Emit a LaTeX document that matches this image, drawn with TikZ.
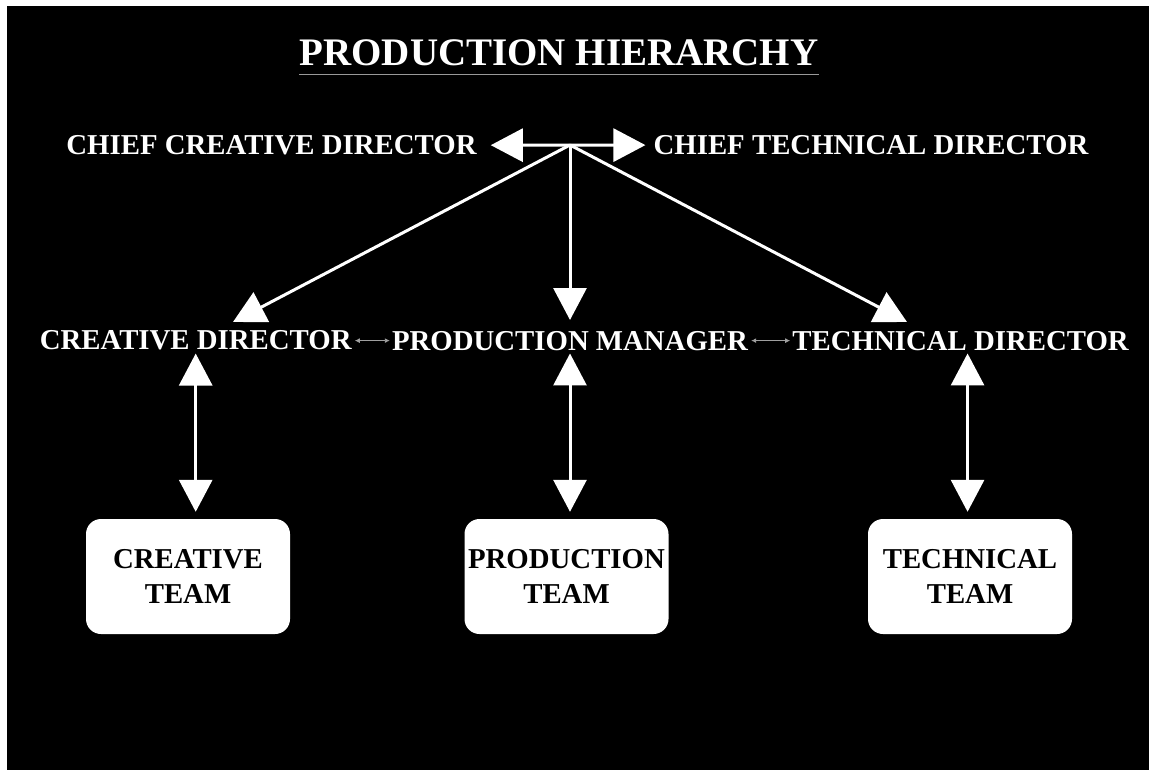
\documentclass[tikz,border=0pt]{standalone}
\usepackage{fontspec}
\setmainfont{Liberation Serif}
\usetikzlibrary{arrows.meta,positioning}

\tikzset{
    roletext/.style={text=white, inner sep=0pt, anchor=base, font=\fontsize{28.8}{35}\selectfont\bfseries},
    teambox/.style={rectangle, rounded corners=15pt, fill=white, text=black, minimum width=204pt, minimum height=115pt, align=center, font=\fontsize{28.8}{35}\selectfont\bfseries},
    bigarrow/.style={draw=white, line width=3pt, -{Triangle[length=32pt,width=33pt]}},
    twoway/.style={draw=white, line width=3pt, {Triangle[length=32pt,width=33pt]}-{Triangle[length=32pt,width=33pt]}},
    thinarrow/.style={draw=gray!75, line width=0.9pt, {Latex[length=5pt,width=5pt]}-{Latex[length=5pt,width=5pt]}, shorten <=3pt, shorten >=2pt}
}

\begin{document}
\begin{tikzpicture}[x=1pt, y=-1pt]
        \useasboundingbox (0,0) rectangle (1149,770);
        \fill[white] (0,0) rectangle (1149,770);
        \fill[black] (7,6) rectangle (1149,770);

        \node[roletext, font=\fontsize{39}{45}\selectfont\bfseries] (title) at (559,66) {PRODUCTION HIERARCHY};
        \draw[gray!80, line width=1pt] ([yshift=-8pt]title.south west) -- ([yshift=-8pt]title.south east);

        \node[roletext] (ccd) at (271.5,154.5) {CHIEF CREATIVE DIRECTOR};
        \node[roletext] (ctd) at (871,154.5) {CHIEF TECHNICAL DIRECTOR};

        \node[roletext] (pm) at (570,350) {PRODUCTION MANAGER};
        \node[roletext, left=40pt of pm] (cd) {CREATIVE DIRECTOR};
        \node[roletext, right=44pt of pm] (td) {TECHNICAL DIRECTOR};

        \node[teambox] (crteam) at (188,576.5) {CREATIVE\\TEAM};
        \node[teambox] (prteam) at (566.5,576.5) {PRODUCTION\\TEAM};
        \node[teambox] (teteam) at (970,576.5) {TECHNICAL\\TEAM};

        \coordinate (hub) at (570,145);
        \coordinate (cdtip) at (233,322);
        \coordinate (pmtip) at (570,320);
        \coordinate (tdtip) at (907,322);

        \draw[twoway] ([xshift=14pt]ccd.east) -- ([xshift=-8pt]ctd.west);
        \draw[bigarrow] (hub) -- (cdtip);
        \draw[bigarrow] (hub) -- (pmtip);
        \draw[bigarrow] (hub) -- (tdtip);

        \path (cd) edge[thinarrow] (pm)
              (pm) edge[thinarrow] (td);

        \draw[twoway] ([yshift=-3pt]cd.south) -- ([yshift=7pt]cd.south |- crteam.north);
        \draw[twoway] ([yshift=-3pt]pm.south) -- ([yshift=7pt]pm.south |- prteam.north);
        \draw[twoway] ([xshift=7pt,yshift=-3pt]td.south) -- ([xshift=7pt,yshift=7pt]td.south |- teteam.north);
\end{tikzpicture}
\end{document}
